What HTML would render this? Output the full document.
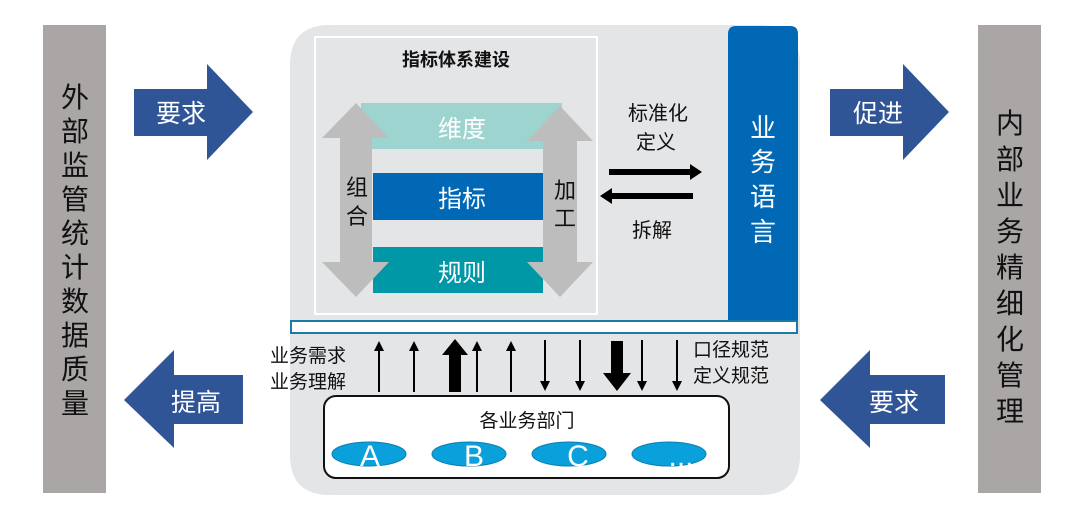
<!DOCTYPE html>
<html><head><meta charset="utf-8"><style>
body{margin:0;background:#fff;}
svg text{font-family:"Liberation Sans","Noto Sans CJK SC",sans-serif;}
</style></head><body>
<svg width="1080" height="517" viewBox="0 0 1080 517" xmlns="http://www.w3.org/2000/svg">
<defs>
<marker id="ah" markerWidth="10" markerHeight="10" refX="5" refY="5" orient="auto" markerUnits="userSpaceOnUse"><path d="M0,0 L10,5 L0,10 z" fill="#000"/></marker>
</defs>
<rect x="43" y="25" width="63" height="468" fill="#aaa6a6"/>
<rect x="978" y="25" width="63" height="468" fill="#aaa6a6"/>
<g font-size="28" fill="#111" text-anchor="middle">
<text x="75" y="107">外</text><text x="75" y="141">部</text><text x="75" y="175">监</text><text x="75" y="209">管</text><text x="75" y="243">统</text><text x="75" y="277">计</text><text x="75" y="311">数</text><text x="75" y="345">据</text><text x="75" y="379">质</text><text x="75" y="413">量</text>
<text x="1010" y="133">内</text><text x="1010" y="169">部</text><text x="1010" y="205">业</text><text x="1010" y="241">务</text><text x="1010" y="277">精</text><text x="1010" y="313">细</text><text x="1010" y="349">化</text><text x="1010" y="385">管</text><text x="1010" y="421">理</text>
</g>
<g fill="#2f5597">
<path d="M134,89 H207 V64 L253,112 L207,160 V136 H134 z"/>
<path d="M124,400 L174,350 V375 H243 V424 H174 V448 z"/>
<path d="M830,89 H903 V64 L949,112 L903,160 V136 H830 z"/>
<path d="M820,400 L870,350 V375 H945 V424 H870 V448 z"/>
</g>
<g font-size="25" fill="#fff" text-anchor="middle">
<text x="181" y="122">要求</text>
<text x="196" y="411">提高</text>
<text x="878" y="122">促进</text>
<text x="894" y="411">要求</text>
</g>
<path d="M330,25 H760 Q800,25 800,65 V455 Q800,495 760,495 H330 Q290,495 290,455 V65 Q290,25 330,25 z" fill="#e4e5e7"/>
<rect x="315" y="37" width="282" height="277" fill="#e4e5e7" stroke="#fff" stroke-width="2"/>
<text x="456" y="66" font-size="18" font-weight="bold" text-anchor="middle" fill="#111">指标体系建设</text>
<rect x="361" y="103" width="201" height="46" fill="#9dd4cf"/>
<rect x="373" y="173" width="170" height="47" fill="#0068b5"/>
<rect x="373" y="247" width="170" height="46" fill="#0097a7"/>
<path d="M356,103 L389,138 H372 V262 H389 L356,297 L322,262 H340 V138 H322 z" fill="#bdbdbd"/>
<path d="M560,106 L593,141 H577 V262 H593 L560,297 L527,262 H543 V141 H527 z" fill="#bdbdbd"/>
<g font-size="24" fill="#fff" text-anchor="middle">
<text x="462" y="137">维度</text>
<text x="462" y="207">指标</text>
<text x="462" y="281">规则</text>
</g>
<g font-size="22" fill="#111" text-anchor="middle">
<text x="357" y="195">组</text><text x="357" y="224">合</text>
<text x="565" y="198">加</text><text x="565" y="226">工</text>
</g>
<g font-size="20" fill="#111" text-anchor="middle">
<text x="658" y="120">标准化</text>
<text x="656" y="149">定义</text>
<text x="652" y="237">拆解</text>
</g>
<path d="M609,169 H690 V164 L702,172 L690,180 V175 H609 z" fill="#000"/>
<path d="M600,196 L612,188 V193 H693 V199 H612 V204 z" fill="#000"/>
<path d="M736,26 H790 Q798,26 798,34 V320 H728 V34 Q728,26 736,26 z" fill="#0068b5"/>
<g font-size="26" fill="#fff" text-anchor="middle">
<text x="763" y="137">业</text><text x="763" y="171">务</text><text x="763" y="206">语</text><text x="763" y="241">言</text>
</g>
<rect x="291" y="321" width="506" height="12" fill="#fff" stroke="#1b7aa8" stroke-width="2"/>
<g stroke="#000" stroke-width="2">
<line x1="379" y1="392" x2="379" y2="346" marker-end="url(#ah)"/>
<line x1="414" y1="392" x2="414" y2="346" marker-end="url(#ah)"/>
<line x1="477" y1="392" x2="477" y2="346" marker-end="url(#ah)"/>
<line x1="511" y1="392" x2="511" y2="346" marker-end="url(#ah)"/>
<line x1="545" y1="340" x2="545" y2="386" marker-end="url(#ah)"/>
<line x1="580" y1="340" x2="580" y2="386" marker-end="url(#ah)"/>
<line x1="642" y1="340" x2="642" y2="386" marker-end="url(#ah)"/>
<line x1="677" y1="340" x2="677" y2="386" marker-end="url(#ah)"/>
</g>
<path d="M442,355 L455,339 L468,355 H461 V392 H449 V355 z" fill="#000"/>
<path d="M611,341 H623 V373 H631 L617,391 L603,373 H611 z" fill="#000"/>
<g font-size="19" fill="#111">
<text x="270" y="362">业务需求</text>
<text x="270" y="388">业务理解</text>
<text x="693" y="356">口径规范</text>
<text x="693" y="382">定义规范</text>
</g>
<rect x="324" y="396" width="405" height="82" rx="12" fill="#fff" stroke="#111" stroke-width="2"/>
<text x="527" y="427" font-size="19" text-anchor="middle" fill="#111">各业务部门</text>
<g fill="#0aa0db" stroke="#0b7fb0" stroke-width="1">
<ellipse cx="369" cy="454" rx="37" ry="12"/>
<ellipse cx="469" cy="454" rx="37" ry="12"/>
<ellipse cx="569" cy="454" rx="37" ry="12"/>
<ellipse cx="669" cy="454" rx="37" ry="12"/>
</g>
<g font-size="30" fill="#fff" text-anchor="middle">
<text x="370" y="466">A</text><text x="474" y="466">B</text><text x="578" y="466">C</text><text x="681" y="466">...</text>
</g>
</svg>
</body></html>
